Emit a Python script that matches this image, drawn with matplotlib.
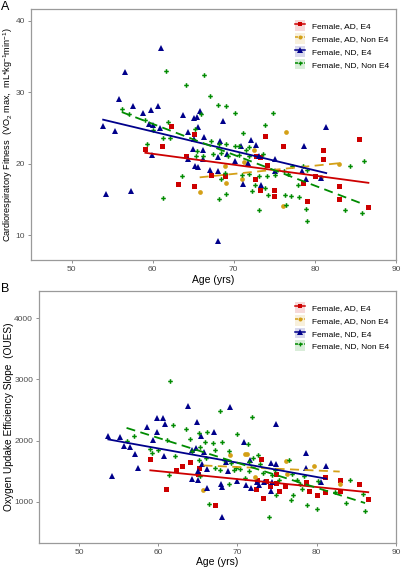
import numpy as np
import matplotlib
matplotlib.use("Agg")
import matplotlib.pyplot as plt
from matplotlib.lines import Line2D
from matplotlib.patches import Patch

plt.rcParams["font.family"] = ["Liberation Sans", "DejaVu Sans"]
plt.rcParams["mathtext.default"] = "regular"

groups = ["Female, AD, E4", "Female, AD, Non E4", "Female, ND, E4", "Female, ND, Non E4"]
colors = ["#CD0000", "#D4A017", "#00008B", "#008B00"]
markers = ["s", "o", "^", "P"]
msizes = [3.6, 3.4, 4.6, 3.3]
styles = ["-", "--", "-", "--"]

# ---- Panel A: cardiorespiratory fitness (VO2 max) ----
ad_e4_age_a = [59.1, 61.1, 62.3, 63.1, 64.1, 65.1, 65.1, 67.2, 68.9, 72.6, 72.7, 73.2, 73.2, 73.8,
               74.1, 75.0, 75.0, 76.1, 78.6, 79.0, 80.0, 81.0, 81.0, 83.0, 83.0, 85.4, 86.6]
ad_e4_vo2 = [22.0, 22.4, 25.3, 17.2, 21.1, 24.1, 16.8, 18.4, 18.3, 17.9, 21.0, 20.9, 16.3, 23.9,
             19.8, 16.3, 15.5, 22.5, 17.3, 14.7, 18.3, 21.9, 20.6, 16.9, 15.1, 23.5, 13.9]

ad_ne4_age_a = [65.8, 68.9, 69.1, 71.0, 71.3, 72.5, 76.1, 76.4, 80.7, 83.0]
ad_ne4_vo2 = [16.0, 19.6, 17.3, 17.9, 20.2, 21.9, 14.1, 24.4, 18.1, 20.0]

nd_e4_age_a = [53.9, 55.3, 54.3, 57.3, 56.6, 55.9, 57.6, 58.8, 59.8, 60.7, 61.0, 59.6, 60.0, 60.9,
               59.9, 63.8, 64.4, 64.4, 65.9, 65.1, 65.5, 65.6, 65.1, 66.3, 65.0, 66.2, 65.2, 65.6,
               66.2, 67.1, 68.0, 68.3, 68.7, 69.2, 68.0, 70.1, 70.9, 71.7, 72.1, 72.7, 73.1, 71.1,
               73.4, 75.1, 75.1, 68.1, 81.4, 78.7, 78.4, 78.9, 80.7]
nd_e4_vo2 = [25.3, 24.5, 15.7, 16.2, 32.8, 29.0, 28.1, 27.1, 27.5, 28.1, 36.2, 25.5, 25.4, 24.9,
             21.2, 26.8, 24.4, 20.7, 27.3, 26.3, 26.5, 25.1, 23.4, 23.7, 22.1, 21.9, 19.6, 19.5,
             20.7, 19.1, 18.9, 23.1, 26.0, 21.3, 20.9, 20.3, 22.4, 20.1, 23.3, 22.6, 21.0, 17.1,
             17.0, 20.7, 18.9, 9.1, 25.1, 22.4, 19.0, 17.8, 18.0]

nd_ne4_age_a = [61.6, 64.1, 56.2, 57.1, 59.0, 61.9, 60.0, 61.3, 62.2, 59.3, 63.6, 61.3,
                66.3, 67.1, 68.1, 69.1, 70.1, 74.8, 66.0, 65.2, 73.8, 71.1, 67.2, 68.2, 69.0, 70.1,
                70.7, 71.5, 71.9, 65.5, 65.3, 67.4, 68.4, 69.3, 70.7, 71.9, 73.6, 66.2, 68.9, 71.0,
                71.9, 73.1, 74.1, 68.4, 72.6, 73.8, 74.2, 75.1, 76.2, 68.2, 69.1, 72.3, 73.1,
                77.2, 78.5, 79.0, 84.3, 86.0, 76.3, 77.1, 78.0, 78.9, 79.0, 77.9, 76.5, 83.7, 85.8, 76.7]
nd_ne4_vo2 = [33.0, 31.0, 27.6, 26.9, 26.1, 25.8, 24.7, 23.6, 23.6, 22.7, 18.3, 15.2,
              32.4, 29.4, 28.2, 28.1, 27.0, 27.1, 26.9, 24.8, 25.4, 24.2, 23.2, 22.7, 22.7, 22.4,
              22.5, 21.9, 22.3, 21.8, 21.0, 21.4, 21.5, 21.0, 21.2, 21.1, 21.3, 21.0, 18.7, 18.4,
              18.6, 18.3, 18.3, 17.8, 17.0, 16.6, 15.6, 18.4, 19.0, 15.0, 15.8, 16.1, 13.5,
              19.7, 19.7, 19.1, 19.6, 20.3, 15.6, 15.4, 15.3, 13.7, 12.0, 17.0, 14.2, 13.5, 13.1, 18.6]

# ---- Panel B: oxygen uptake efficiency slope (OUES) ----
ad_e4_age_b = [59.0, 61.0, 62.2, 63.0, 64.0, 65.0, 65.1, 67.1, 72.3, 72.5, 73.0, 73.2, 73.6, 74.1,
               74.9, 74.9, 75.2, 76.0, 78.6, 79.0, 80.0, 81.0, 81.0, 82.9, 82.9, 85.3, 86.5]
ad_e4_oues = [1703, 1202, 1517, 1588, 1648, 1458, 1550, 951, 1213, 1365, 1708, 1060, 1338, 1262,
              1452, 1305, 1180, 1251, 1332, 1185, 1109, 1414, 1164, 1365, 1169, 1294, 1044]

ad_ne4_age_b = [65.7, 69.0, 70.9, 71.2, 72.2, 76.1, 76.3, 79.6, 82.9]
ad_ne4_oues = [1196, 1768, 1779, 1779, 1414, 1664, 1452, 1588, 1289]

nd_e4_age_b = [53.7, 54.2, 55.2, 55.7, 56.4, 57.1, 57.4, 58.6, 59.8, 59.8, 59.4, 60.6, 60.8, 60.7,
               63.7, 64.3, 64.3, 64.9, 64.8, 65.0, 65.0, 65.4, 65.5, 65.8, 66.2, 66.1, 67.0, 67.9,
               68.1, 68.0, 69.1, 68.6, 68.8, 70.0, 70.8, 71.1, 71.6, 71.7, 72.4, 72.7, 73.3, 74.2,
               74.3, 74.9, 74.9, 74.2, 78.6, 78.6, 80.6, 81.2]
nd_e4_oues = [2078, 1425, 2056, 1920, 1899, 1779, 1561, 2220, 2367, 2149, 2007, 2367, 2274, 1752,
              2574, 1844, 1376, 2312, 1888, 1512, 1360, 2084, 1621, 1822, 1539, 1224, 2144, 1294,
              1240, 750, 2552, 1659, 1496, 1338, 1975, 1273, 1686, 1224, 1332, 1278, 1332, 1169,
              1332, 2269, 1620, 1636, 1801, 1550, 1332, 1588]

nd_ne4_age_b = [56.0, 56.9, 58.9, 59.2, 60.0, 61.1, 61.5, 61.8, 61.3, 62.1, 63.5, 64.0, 64.3, 65.1,
                65.3, 65.1, 65.3, 66.1, 65.9, 66.0, 66.4, 66.9, 67.1, 67.8, 68.0, 67.1, 67.8, 68.3,
                68.9, 69.2, 68.9, 70.0, 69.5, 69.8, 70.3, 70.9, 71.4, 71.4, 71.8, 71.3, 72.0, 72.6,
                72.9, 73.2, 74.0, 74.3, 74.7, 74.9, 75.2, 76.5, 76.9, 76.7, 77.0, 77.5, 77.9, 78.1,
                78.4, 78.8, 80.0, 80.1, 82.3, 83.7, 84.2, 85.8, 86.1]
nd_ne4_oues = [1997, 2084, 1861, 1806, 1850, 2007, 2971, 2252, 1434, 1752, 2198, 2029, 1839, 2127,
               1904, 1686, 1420, 2138, 1986, 1714, 962, 1964, 1855, 2492, 1986, 1556, 1528, 1686,
               1833, 1632, 1289, 2111, 1523, 1550, 1534, 1387, 1659, 1496, 2389, 1948, 1719, 1768,
               1616, 1469, 750, 1442, 1523, 1115, 1360, 1676, 1458, 1033, 1104, 1349, 1289, 1213,
               1420, 951, 886, 1333, 1158, 973, 1349, 1126, 843]

panel_a = [(ad_e4_age_a, ad_e4_vo2), (ad_ne4_age_a, ad_ne4_vo2),
           (nd_e4_age_a, nd_e4_vo2), (nd_ne4_age_a, nd_ne4_vo2)]
panel_b = [(ad_e4_age_b, ad_e4_oues), (ad_ne4_age_b, ad_ne4_oues),
           (nd_e4_age_b, nd_e4_oues), (nd_ne4_age_b, nd_ne4_oues)]


def draw_panel(ax, data, ylim, yticks, ylabel, ylabel_size, ylabel_x):
    for (age, val), c, m, ms in zip(data, colors, markers, msizes):
        ax.plot(age, val, linestyle="none", marker=m, color=c, markersize=ms,
                markeredgewidth=0, zorder=3)
    # linear fit per group, drawn over the group's age range
    for (age, val), c, ls in zip(data, colors, styles):
        slope, icpt = np.polyfit(age, val, 1)
        xs = np.array([min(age), max(age)])
        ax.plot(xs, icpt + slope * xs, color=c, linestyle=ls, linewidth=1.3,
                dashes=(5, 3) if ls == "--" else (None, None), zorder=4)
    ax.set_xlim(45, 90)
    ax.set_ylim(*ylim)
    ax.set_xticks([50, 60, 70, 80, 90])
    ax.set_yticks(yticks)
    ax.tick_params(colors="#7f7f7f", labelcolor="#4d4d4d", labelsize=6, length=2.5,
                   width=0.6, pad=2)
    for sp in ax.spines.values():
        sp.set_color("#9a9a9a")
        sp.set_linewidth(0.9)
    ax.set_xlabel("Age (yrs)", fontsize=7.5, labelpad=1)
    ax.set_ylabel(ylabel, fontsize=ylabel_size, va="center")
    ax.yaxis.set_label_coords(ylabel_x, 0.5)
    handles = []
    for c, m, ms, ls in zip(colors, markers, msizes, styles):
        bg = Patch(facecolor=c, alpha=0.15, edgecolor="none")
        ln = Line2D([], [], color=c, marker=m, markersize=ms * 0.85, linestyle=ls,
                    linewidth=1.1, markeredgewidth=0, dashes=(2, 1) if ls == "--" else (None, None))
        handles.append((bg, ln))
    ax.legend(handles, groups, loc="upper right", frameon=False, fontsize=6,
              handlelength=1.3, handleheight=1.6, handletextpad=0.8, labelspacing=0.25,
              borderaxespad=0.2, bbox_to_anchor=(0.995, 0.975))


fig = plt.figure(figsize=(4.02, 5.69), dpi=100)
ax_a = fig.add_axes([0.077, 0.543, 0.908, 0.441])
ax_b = fig.add_axes([0.098, 0.046, 0.887, 0.443])

draw_panel(ax_a, panel_a, (6.5, 41.6), [10, 20, 30, 40],
           "Cardiorespiratory Fitness  (VO$_2$ max,  mL*kg$^{-1}$min$^{-1}$)", 6.6, -0.062)
draw_panel(ax_b, panel_b, (330, 4450), [1000, 2000, 3000, 4000],
           "Oxygen Updake Efficiency Slope  (OUES)", 7.3, -0.085)

fig.text(0.003, 0.999, "A", fontsize=9, va="top", ha="left")
fig.text(0.003, 0.503, "B", fontsize=9, va="top", ha="left")

fig.savefig("out.png", dpi=100)
